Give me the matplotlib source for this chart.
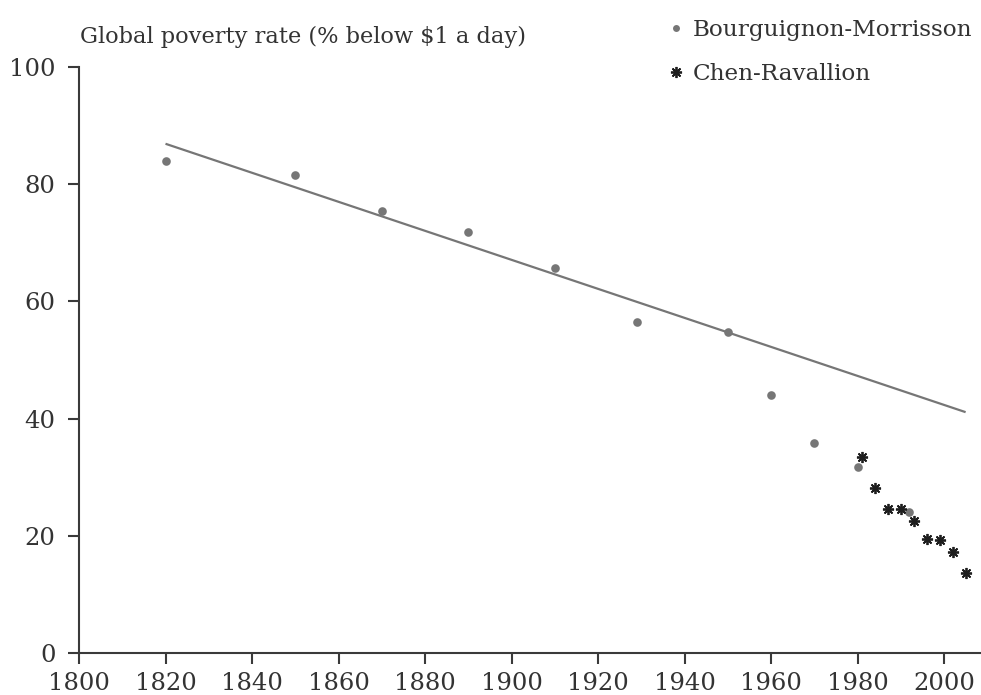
import matplotlib
matplotlib.use("Agg")
import matplotlib.pyplot as plt

# Data
bm_years = [1820, 1850, 1870, 1890, 1910, 1929, 1950, 1960, 1970, 1980, 1992]
bm_values = [84.0, 81.6, 75.4, 71.8, 65.7, 56.4, 54.8, 44.1, 35.8, 31.7, 24.1]

cr_years = [1981, 1984, 1987, 1990, 1993, 1996, 1999, 2002, 2005]
cr_values = [33.5, 28.1, 24.5, 24.5, 22.5, 19.5, 19.3, 17.2, 13.6]

trend_years = [1820, 2005]
trend_values = [86.9, 41.1]

x_ticks = [1800, 1820, 1840, 1860, 1880, 1900, 1920, 1940, 1960, 1980, 2000]
y_ticks = [0, 20, 40, 60, 80, 100]

title_text = "Global poverty rate (% below $1 a day)"
label_bm = "Bourguignon-Morrisson"
label_cr = "Chen-Ravallion"

plt.rcParams['font.family'] = ['DejaVu Serif']
text_color = "#333333"
gray = "#767676"

fig = plt.figure(figsize=(9.81, 6.95), dpi=100)
ax = fig.add_axes([79/981, 1 - 653/695, 1 - 79/981, (653 - 67)/695])

ax.plot(trend_years, trend_values, color=gray, lw=1.6, solid_capstyle='butt', zorder=2)
ax.plot(bm_years, bm_values, 'o', color=gray, markersize=6.2, markeredgewidth=0, zorder=3,
        label=label_bm)
ax.plot(cr_years, cr_values, linestyle='none', marker=(8, 2, 0), color="#1e1e1e",
        markersize=8, markeredgewidth=1.3, zorder=4, label=label_cr)

ax.set_xlim(1800, 1800 + (981 - 79) / 4.325)
ax.set_ylim(0, 100)
ax.set_xticks(x_ticks)
ax.set_yticks(y_ticks)

for s in ['top', 'right']:
    ax.spines[s].set_visible(False)
for s in ['left', 'bottom']:
    ax.spines[s].set_color("#3a3a3a")
    ax.spines[s].set_linewidth(1.5)

ax.tick_params(axis='both', direction='out', length=8, width=1.5, color="#3a3a3a",
               labelcolor=text_color, labelsize=17.5)
ax.tick_params(axis='x', pad=6)
ax.tick_params(axis='y', pad=9)

fig.text(80/981, 1 - 43/695, title_text, fontsize=16.2, color=text_color,
         ha='left', va='baseline')

leg = fig.legend(handles=ax.get_lines()[1:], labels=[label_bm, label_cr],
                 loc='upper left', bbox_to_anchor=(667/981, 1 - 19/695),
                 frameon=False, fontsize=16.7, handlelength=0.8, handletextpad=0.3,
                 labelspacing=0.95, borderaxespad=0, borderpad=0, markerscale=1.0)
for t in leg.get_texts():
    t.set_color(text_color)
leg.legend_handles[0].set_markersize(5)

fig.savefig("out.png", dpi=100)
